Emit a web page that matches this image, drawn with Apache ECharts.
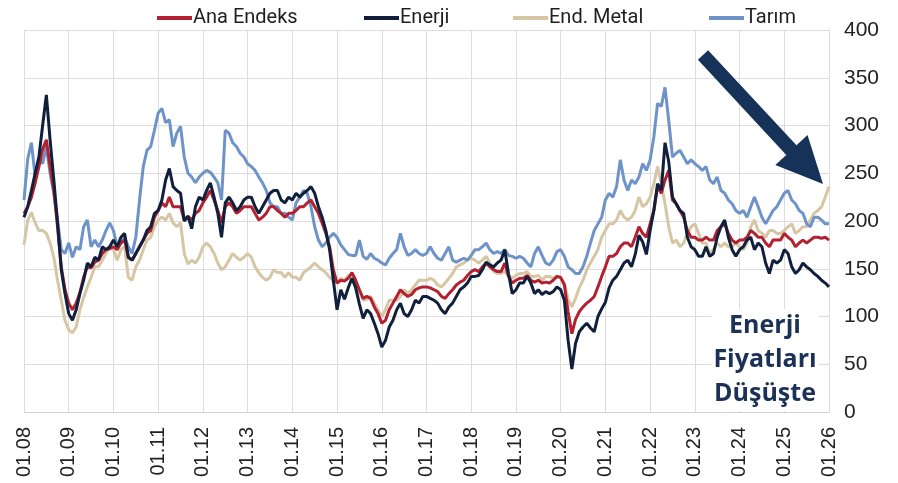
<!DOCTYPE html>
<html><head><meta charset="utf-8">
<script src="https://cdn.jsdelivr.net/npm/echarts@6/dist/echarts.min.js"></script>
<style>html,body{margin:0;padding:0;background:#fff;}#c{width:898px;height:483px;}</style>
</head><body><div id="c"></div>
<script>
// Years shown on the x axis (monthly categories, Jan 2008 .. Jan 2026)
var years = [2008,2009,2010,2011,2012,2013,2014,2015,2016,2017,2018,2019,2020,2021,2022,2023,2024,2025];
var yTicks = [0,50,100,150,200,250,300,350,400];

var anaEndeks = [
208,215,225,240,257,275,285,257,232,194,152,128,
114,107,114,125,141,152,151,157,159,166,170,171,
173,170,177,180,162,159,166,173,180,187,190,204,
211,219,215,225,215,215,215,201,205,201,208,211,
219,225,232,222,211,198,215,219,215,208,211,215,
215,215,208,201,204,208,215,215,211,208,204,208,
208,211,215,215,219,222,215,208,198,187,173,149,
135,138,137,140,146,138,128,119,121,119,110,103,
93,96,107,114,121,128,124,121,123,128,130,131,
131,130,128,126,121,119,124,128,133,136,138,143,
147,149,147,152,156,152,149,147,147,156,142,135,
138,140,140,143,138,136,138,135,136,135,138,142,
141,133,105,82,97,105,110,114,117,121,131,142,
152,163,163,166,173,177,177,173,183,194,187,183,
197,211,236,229,243,253,222,218,211,204,190,183,
183,180,180,183,180,180,190,194,197,187,180,177,
180,180,183,190,187,183,183,177,173,180,180,180,
187,183,180,173,177,180,177,180,183,183,182,183,
180];

var enerji = [
204,215,232,250,267,300,332,285,243,198,149,124,
103,96,107,124,138,156,152,162,159,173,170,173,
180,173,183,187,162,159,166,173,180,190,194,208,
211,222,243,255,236,232,229,200,205,192,215,225,
222,232,240,225,208,183,219,225,219,211,215,222,
225,225,215,208,215,222,229,232,232,222,219,225,
222,229,225,229,232,236,229,215,204,190,170,138,
107,128,118,130,140,130,113,98,107,103,93,82,
68,75,89,96,107,114,103,100,107,117,114,121,
121,119,117,114,107,103,110,114,121,128,131,135,
142,142,143,149,157,154,152,156,159,170,145,124,
128,135,135,142,135,124,128,123,126,124,126,131,
128,117,75,45,72,84,89,93,88,84,100,108,
115,130,138,142,149,156,159,152,165,185,178,165,
190,211,239,232,282,262,225,218,211,208,183,173,
170,163,163,173,163,166,183,194,201,183,170,163,
170,173,180,183,170,177,173,156,145,159,156,159,
170,166,152,145,149,156,152,149,145,142,138,135,
131];

var endMetal = [
175,201,209,198,190,190,187,177,162,138,117,96,
86,83,89,107,120,131,141,152,152,159,166,173,
170,159,170,173,141,138,152,159,170,180,183,194,
201,204,201,208,198,194,198,166,155,159,156,162,
173,177,173,166,156,149,152,159,166,162,159,162,
166,162,152,146,141,138,141,149,146,146,141,146,
141,141,138,146,149,152,156,152,149,146,141,138,
135,140,138,143,142,133,126,117,118,121,114,107,
100,107,117,117,117,121,128,124,128,133,138,138,
138,140,138,133,131,135,140,145,152,154,156,159,
161,159,156,159,163,156,147,145,145,147,143,140,
143,145,145,147,142,142,143,138,142,142,140,142,
140,135,118,110,119,130,138,149,156,163,170,183,
190,197,197,201,211,204,201,204,211,225,215,218,
225,239,257,239,218,194,177,180,173,177,187,194,
197,187,177,177,166,170,177,173,177,173,173,177,
173,170,177,194,201,190,187,183,190,190,187,187,
190,194,197,187,190,194,194,201,208,211,215,225,
236];

var tarim = [
222,265,282,246,267,260,278,250,229,201,170,166,
177,162,173,170,194,201,173,180,173,180,190,198,
190,173,177,183,173,166,183,222,257,274,278,295,
313,318,303,306,278,292,299,267,250,246,240,246,
250,253,251,246,240,222,295,292,282,278,271,267,
260,257,253,246,240,232,219,215,215,208,208,204,
201,219,225,232,229,215,194,180,173,177,183,187,
183,175,170,165,164,164,180,163,160,166,161,159,
156,154,161,166,170,187,173,164,166,170,166,164,
166,173,166,161,159,166,173,159,157,159,161,159,
164,170,170,173,177,170,166,168,166,170,164,163,
161,163,161,156,152,166,173,164,156,154,159,168,
170,163,152,149,145,145,152,163,177,190,197,204,
222,229,225,236,264,243,232,243,239,246,260,253,
264,288,323,320,340,305,267,271,274,267,260,264,
260,257,253,257,243,239,246,232,229,222,218,211,
208,211,204,215,225,215,204,197,204,211,215,222,
229,232,222,218,211,208,197,194,204,204,201,197,
197];

var seriesNames = ['Ana Endeks','Enerji','End. Metal','Tarım'];
var colors = {'Ana Endeks':'#b3202f','Enerji':'#101f3b','End. Metal':'#d6c6a3','Tarım':'#6e93c9'};

var categories = [];
years.forEach(function(y){ for (var m=1;m<=12;m++){ categories.push(y+'-'+(m<10?'0':'')+m); } });
categories.push('2026-01');

function isJan(i){ return i % 12 === 0; }
function fmt(v){ var p=v.split('-'); return p[1]+'.'+p[0].slice(2); }

function mk(name, data, z){
  return {name:name, type:'line', data:data, symbol:'none', showSymbol:false, z:z,
    lineStyle:{width:3, color:colors[name]}, itemStyle:{color:colors[name]}, emphasis:{disabled:true}};
}

var legendLefts = [152, 359, 508, 704];
var legends = seriesNames.map(function(n, i){
  return {data:[n], top:3, left:legendLefts[i], itemWidth:35, itemHeight:4, icon:'rect',
    textStyle:{fontSize:20, color:'#1f1f1f', fontFamily:'Roboto, sans-serif', padding:[0,0,0,-4]}};
});

var chart = echarts.init(document.getElementById('c'), null, {renderer:'canvas'});
chart.setOption({
  animation:false,
  backgroundColor:'#ffffff',
  textStyle:{fontFamily:'"Liberation Sans", Arial, sans-serif'},
  legend:legends,
  grid:{left:24, right:69, top:30, bottom:71},
  xAxis:{
    type:'category', data:categories, boundaryGap:false,
    axisLine:{show:true, lineStyle:{color:'#d0d0d0', width:1}},
    axisTick:{show:false},
    axisLabel:{interval:function(i){return isJan(i);}, rotate:90, formatter:fmt, fontSize:20, color:'#222', margin:15,
      fontFamily:'"Liberation Sans", Arial, sans-serif'},
    splitLine:{show:true, interval:function(i){return isJan(i);}, lineStyle:{color:'#dcdcdc', width:1}}
  },
  yAxis:{
    type:'value', position:'right', min:0, max:400, interval:50,
    axisLine:{show:true, lineStyle:{color:'#dcdcdc'}}, axisTick:{show:false},
    axisLabel:{fontSize:21, color:'#222', margin:15, customValues: yTicks,
      fontFamily:'"Liberation Sans", Arial, sans-serif'},
    splitLine:{show:true, lineStyle:{color:'#dcdcdc', width:1}}
  },
  series:[
    mk('End. Metal', endMetal, 2),
    mk('Tarım', tarim, 3),
    mk('Ana Endeks', anaEndeks, 4),
    mk('Enerji', enerji, 5)
  ],
  graphic:[
    {type:'polygon', z:100, shape:{points:[[697.9,59.8],[708.1,50.2],[796.5,145.3],[807.5,135.1],[823,184],[775.3,165.1],[786.3,154.9]]},
      style:{fill:'#173258'}},
    {type:'text', z:100, x:765, y:309,
      style:{text:'Enerji\nFiyatları\nDüşüşte', fill:'#1b3157', font:'bold 25px "Open Sans", Roboto, sans-serif',
        align:'center', verticalAlign:'top', lineHeight:34, backgroundColor:'#ffffff', padding:[0,2,0,2]}}
  ]
});
</script></body></html>
